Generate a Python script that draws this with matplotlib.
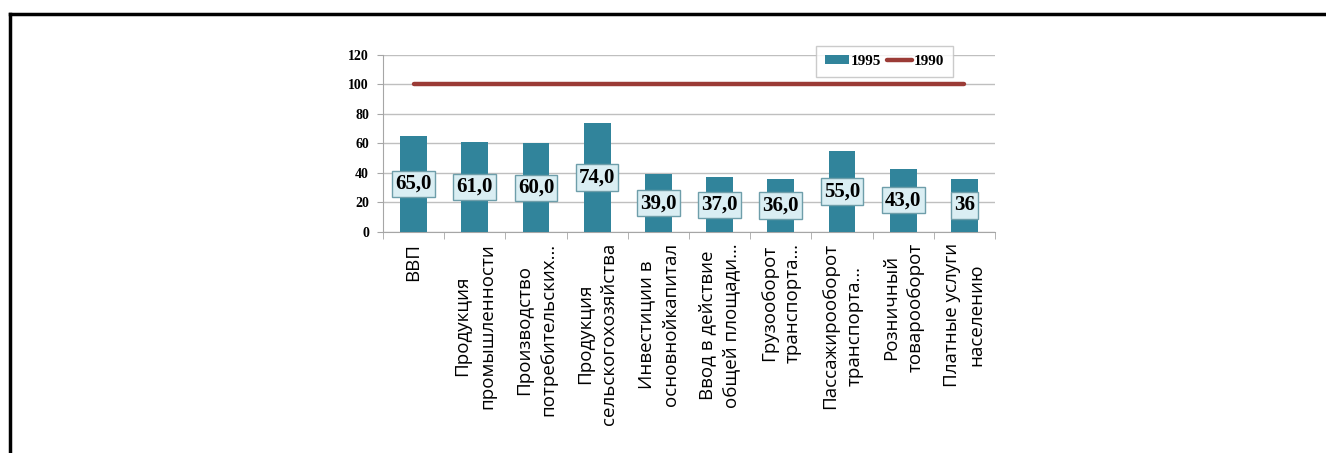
import matplotlib
matplotlib.use("Agg")
import matplotlib.pyplot as plt
from matplotlib.lines import Line2D
import numpy as np

categories = [
    "ВВП",
    "Продукция\nпромышленности",
    "Производство\nпотребительских…",
    "Продукция\nсельскогохозяйства",
    "Инвестиции в\nосновнойкапитал",
    "Ввод в действие\nобщей площади…",
    "Грузооборот\nтранспорта…",
    "Пассажирооборот\nтранспорта…",
    "Розничный\nтоварооборот",
    "Платные услуги\nнаселению",
]
values_1995 = [65.0, 61.0, 60.0, 74.0, 39.0, 37.0, 36.0, 55.0, 43.0, 36.0]
labels_1995 = ["65,0", "61,0", "60,0", "74,0", "39,0", "37,0", "36,0", "55,0", "43,0", "36"]
values_1990 = [100] * len(categories)
yticks = [0, 20, 40, 60, 80, 100, 120]

bar_color = "#31849B"
line_color = "#9B3B36"

fig = plt.figure(figsize=(13.26, 4.53), dpi=100)
ax = fig.add_axes([0.2888, 0.4879, 0.7504 - 0.2888, 0.8786 - 0.4879])

x = np.arange(len(categories))
bars = ax.bar(x, values_1995, width=0.44, color=bar_color, label="1995", zorder=3)
line, = ax.plot(x, values_1990, color=line_color, lw=3.2, solid_capstyle="round", label="1990", zorder=4)

for xi, v, lab in zip(x, values_1995, labels_1995):
    ax.text(xi, v / 2, lab, ha="center", va="center", fontsize=15, fontweight="bold",
            family="Liberation Serif", zorder=5,
            bbox=dict(boxstyle="square,pad=0.15", fc="#DAEEF3", ec="#6E9EAA", lw=1))

ax.set_xlim(-0.5, len(categories) - 0.5)
ax.set_ylim(0, 120)
ax.set_yticks(yticks)
ax.set_yticklabels([str(t) for t in yticks], fontsize=10, fontweight="bold", family="Liberation Serif")
ax.yaxis.grid(True, color="#BFBFBF", lw=1, zorder=0)
ax.set_axisbelow(True)

ax.set_xticks(x)
ax.set_xticklabels(categories, rotation=90, ha="center", va="top", multialignment="center",
                   fontsize=13.5, family="Open Sans", linespacing=1.45)
ax.tick_params(axis="x", length=0, pad=8)
ax.set_xticks(np.arange(len(categories) + 1) - 0.5, minor=True)
ax.tick_params(axis="x", which="minor", length=5, color="#A6A6A6", direction="out")
ax.tick_params(axis="y", length=4, color="#A6A6A6", direction="out", pad=6)

for s in ["top", "right"]:
    ax.spines[s].set_visible(False)
ax.spines["left"].set_color("#A6A6A6")
ax.spines["bottom"].set_color("#A6A6A6")

leg = ax.legend([bars, line], ["1995", "1990"], loc="upper right", bbox_to_anchor=(0.931, 1.051),
                borderaxespad=0, ncol=2, frameon=True,
                fancybox=False, edgecolor="#BFBFBF", handlelength=1.6, handleheight=0.5,
                columnspacing=0.4, handletextpad=0.1, borderpad=0.6,
                prop={"family": "Liberation Serif", "weight": "bold", "size": 11})
leg.get_frame().set_linewidth(1)

fig.add_artist(Line2D([9.5 / 1326, 1.0], [1 - 13.5 / 453, 1 - 13.5 / 453],
                      transform=fig.transFigure, color="black", lw=2.5))
fig.add_artist(Line2D([9.5 / 1326, 9.5 / 1326], [0, 1 - 13.5 / 453],
                      transform=fig.transFigure, color="black", lw=2.5))

fig.savefig("out.png", dpi=100)
